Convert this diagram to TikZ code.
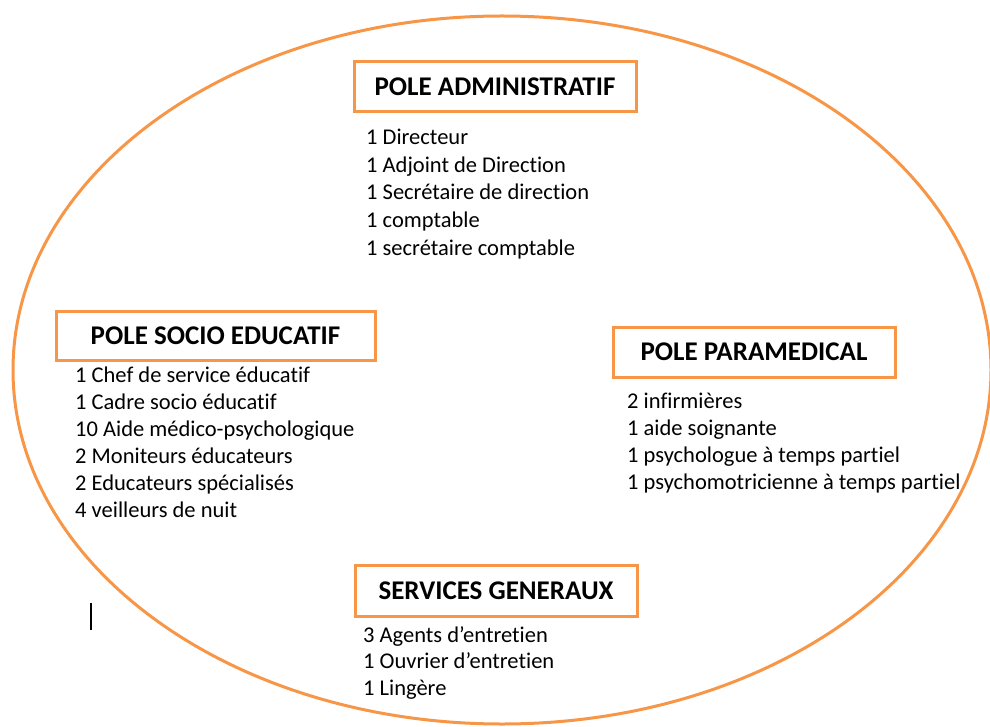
\documentclass[tikz,border=0pt]{standalone}
\usepackage{fontspec}
\setmainfont{Carlito}[Ligatures=CommonOff]
\definecolor{poleorange}{HTML}{F79646}
\begin{document}
\begin{tikzpicture}[x=1pt,y=-1pt,
  pole/.style={draw=poleorange, line width=3pt, minimum width=282pt, minimum height=50pt, inner sep=0pt, font=\fontsize{27}{32}\selectfont\bfseries},
  item/.style={anchor=base west, inner sep=0pt, font=\fontsize{22.5}{27}\selectfont}]
\useasboundingbox (0,0) rectangle (990,727);
\draw[poleorange, line width=3pt] (502,370) ellipse [x radius=489pt, y radius=354pt];

% les poles
\node[pole] (admin) at (495,87) {POLE ADMINISTRATIF};
\node[pole, minimum width=319pt, minimum height=49pt] (socio) at (215.5,335.5) {POLE SOCIO EDUCATIF};
\node[pole] (para) at (754,352) {POLE PARAMEDICAL};
\node[pole, minimum height=51pt] (serv) at (496,590.5) {SERVICES GENERAUX};

% les effectifs
\foreach \t [count=\i] in {1 Directeur, 1 Adjoint de Direction, 1 Secrétaire de direction, 1 comptable, 1 secrétaire comptable}
  \node[item] (admin\i) at (366,{145+27.5*(\i-1)}) {\t};
\foreach \t [count=\i] in {1 Chef de service éducatif, 1 Cadre socio éducatif, 10 Aide médico-psychologique, 2 Moniteurs éducateurs, 2 Educateurs spécialisés, 4 veilleurs de nuit}
  \node[item] (socio\i) at (75,{382+27*(\i-1)}) {\t};
\foreach \t [count=\i] in {2 infirmières, 1 aide soignante, 1 psychologue à temps partiel, 1 psychomotricienne à temps partiel}
  \node[item] (para\i) at (627,{408+27*(\i-1)}) {\t};
\foreach \t [count=\i] in {3 Agents d’entretien, 1 Ouvrier d’entretien, 1 Lingère}
  \node[item] (serv\i) at (363,{642+26.5*(\i-1)}) {\t};

\draw[line width=2pt] (91,603) coordinate (c1) -- (91,630) coordinate (c2);
\end{tikzpicture}
\end{document}
